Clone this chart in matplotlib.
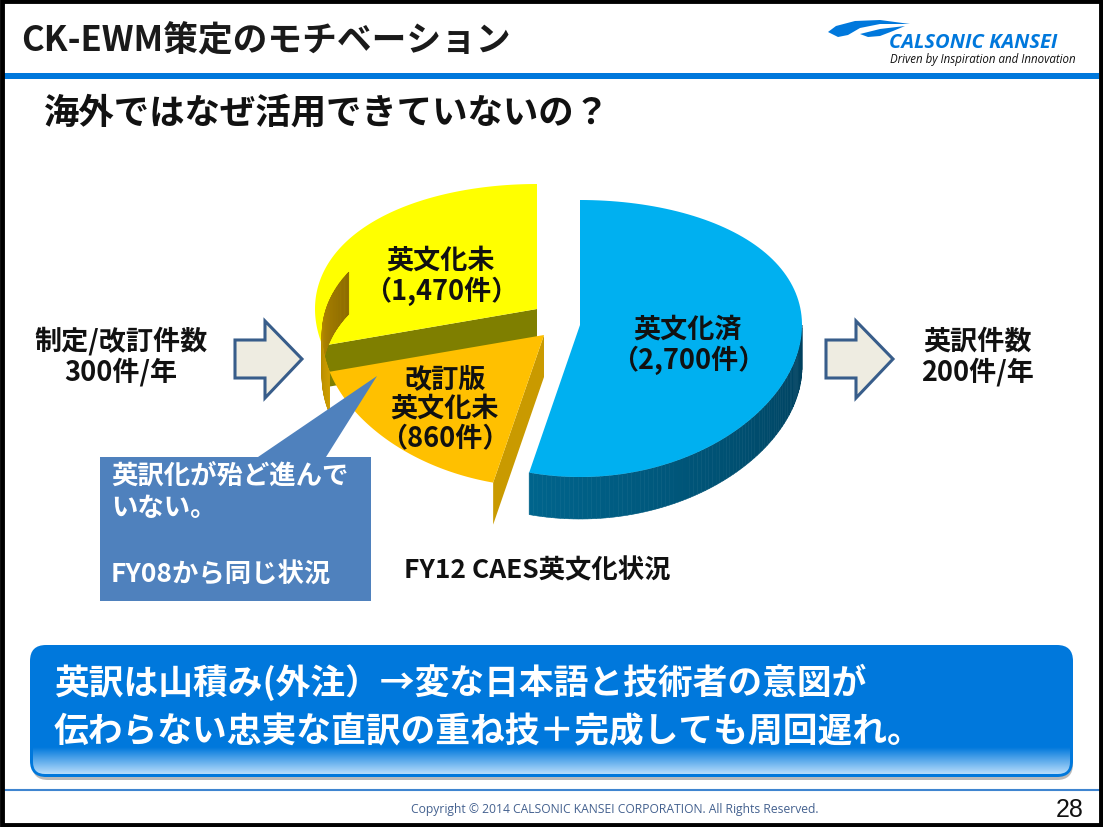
import numpy as np
import matplotlib
matplotlib.use('Agg')
import matplotlib.pyplot as plt
from matplotlib.patches import Polygon, Rectangle, FancyBboxPatch

plt.rcParams['font.family'] = ['Noto Sans CJK JP', 'DejaVu Sans']

# slices, clockwise from 12 o'clock
slice_names = ['英文化済', '英文化未', '改訂版\n英文化未']
slice_counts = [2700, 1470, 860]
slice_labels = ['英文化済\n（2,700件）', '英文化未\n（1,470件）', '改訂版\n英文化未\n（860件）']

title = 'CK-EWM策定のモチベーション'
subtitle = '海外ではなぜ活用できていないの？'
left_label = '制定/改訂件数\n300件/年'
right_label = '英訳件数\n200件/年'
caption = 'FY12 CAES英文化状況'
callout_lines = ['英訳化が殆ど進んで', 'いない。', '', 'FY08から同じ状況']
banner_lines = ['英訳は山積み(外注）→変な日本語と技術者の意図が', '伝わらない忠実な直訳の重ね技＋完成しても周回遅れ。']
copyright_text = 'Copyright © 2014 CALSONIC KANSEI CORPORATION. All Rights Reserved.'
page_no = '28'

BLUE = '#0078DC'
DEPTH = 42


def rim(cx, cy, deg):
    # tilted ellipse, front half a bit longer than the back half
    th = np.radians(deg)
    t = -np.cos(th)
    return cx + 222 * np.sin(th), cy + 138.5 * t + 13.5 * t * t


def arc(cx, cy, a0, a1, n=120):
    return np.column_stack(rim(cx, cy, np.linspace(a0, a1, n)))


def side(ax, cx, cy, a0, a1, c0, c1, z):
    # outer wall of a slice as thin strips, colour running c0 to c1
    a0 = max(a0, 90)
    a1 = min(a1, 270)
    edges = np.linspace(a0, a1, 90)
    c0, c1 = np.array(matplotlib.colors.to_rgb(c0)), np.array(matplotlib.colors.to_rgb(c1))
    for i in range(len(edges) - 1):
        p = arc(cx, cy, edges[i], edges[i + 1], 4)
        q = p[::-1] + [0, DEPTH]
        col = c0 + (c1 - c0) * i / (len(edges) - 2)
        ax.add_patch(Polygon(np.vstack([p, q]), fc=col, ec=col, lw=0.4, zorder=z))


fig = plt.figure(figsize=(11.03, 8.28), dpi=100)
ax = fig.add_axes([0, 0, 1, 1])
ax.set_xlim(0, 1103)
ax.set_ylim(828, 0)
ax.axis('off')

# header
ax.text(21, 41, title, fontsize=25, fontweight='bold', va='center', color='#1a1a1a')
ax.add_patch(Rectangle((4, 74), 1095, 6, fc=BLUE, ec='none'))
ax.text(44, 113, subtitle, fontsize=25.5, fontweight='bold', va='center', color='#111111')

# logo
ax.add_patch(Polygon([(828, 33), (836, 27), (855, 22), (880, 21), (910, 25), (880, 25),
                      (860, 29), (848, 36), (838, 38)], fc=BLUE, ec='none'))
ax.add_patch(Polygon([(860, 35), (880, 30), (905, 27), (893, 32), (880, 37), (868, 38)], fc=BLUE, ec='none'))
ax.text(889, 43, 'CALSONIC KANSEI', fontsize=14.5, style='italic', fontweight='bold', color=BLUE,
        va='center', family='Open Sans')
ax.text(890, 60, 'Driven by Inspiration and Innovation', fontsize=8.3, style='italic', va='center',
        family='Open Sans', color='#111111')

# pie: angles come from the counts
total = sum(slice_counts)
sweep = np.cumsum([0] + slice_counts) / total * 360
blue_c = (580, 326)
yellow_c = (537, 310)
orange_c = (544, 336)

# yellow slice with olive cut wall
a0, a1 = sweep[1], sweep[2]
y_left = np.array(rim(*yellow_c, sweep[2] - (sweep[3] - sweep[2]) * 0 - 0))
y_start = np.array(rim(*yellow_c, a1))
ax.add_patch(Polygon(np.vstack([arc(*yellow_c, sweep[3] - 105, sweep[3]), yellow_c]), fc='#FFFF00', ec='none', zorder=2))
yl = np.array(rim(*yellow_c, sweep[3] - 105))
ax.add_patch(Polygon([yl, yellow_c, (yellow_c[0], yellow_c[1] + DEPTH), yl + [0, DEPTH]], fc='#7F7F00', ec='none', zorder=1))

# orange slice
side(ax, *orange_c, sweep[2], sweep[3] - 105, '#8C6A00', '#CC9C00', 3)
o_end = np.array(rim(*orange_c, sweep[1]))
ax.add_patch(Polygon([orange_c, (orange_c[0], orange_c[1] + DEPTH), o_end + [0, DEPTH], o_end], fc='#C99A00', ec='none', zorder=3))
ax.add_patch(Polygon(np.vstack([arc(*orange_c, sweep[1], sweep[3] - 105), orange_c]), fc='#FFC000', ec='none', zorder=4))

# blue slice
side(ax, *blue_c, sweep[0], sweep[1], '#003F5C', '#00648C', 3)
ax.add_patch(Polygon(np.vstack([arc(*blue_c, sweep[0], sweep[1]), blue_c]), fc='#00B0F0', ec='none', zorder=4))

ax.text(688, 345, slice_labels[0], fontsize=19.5, fontweight='bold', ha='center', va='center', zorder=6, color='#111111', linespacing=1.1)
ax.text(441, 276, slice_labels[1], fontsize=19.5, fontweight='bold', ha='center', va='center', zorder=6, color='#111111', linespacing=1.1)
ax.text(445, 409, slice_labels[2], fontsize=19.5, fontweight='bold', ha='center', va='center', zorder=6, color='#111111', linespacing=1.1)

# side labels and block arrows
ax.text(121, 357, left_label, fontsize=19.5, fontweight='bold', ha='center', va='center', color='#111111', linespacing=1.1)
ax.text(978, 357, right_label, fontsize=19.5, fontweight='bold', ha='center', va='center', color='#111111', linespacing=1.1)
for x0 in [235, 826]:
    ax.add_patch(Polygon([(x0, 341), (x0 + 30, 341), (x0 + 30, 322), (x0 + 67, 360),
                          (x0 + 30, 399), (x0 + 30, 379), (x0, 379)],
                         fc='#EEECE1', ec='#385D8A', lw=2.2, zorder=2))

ax.text(404, 571, caption, fontsize=19, fontweight='bold', va='center', color='#111111')

# callout
ax.add_patch(Polygon([(100, 458), (258, 458), (377, 377), (326, 458), (371, 458), (371, 602), (100, 602)],
                     fc='#4F81BD', ec='none', zorder=7))
for i, line in enumerate(callout_lines):
    ax.text(111, 476 + i * 33, line, fontsize=19, fontweight='bold', color='white', va='center', zorder=8)

# banner with pale strip at the foot
ax.add_patch(FancyBboxPatch((32, 651), 1041, 130, boxstyle='round,pad=0,rounding_size=16', fc='#8a8a8a', ec='none', alpha=0.6, zorder=1))
box = FancyBboxPatch((30, 646), 1043, 132, boxstyle='round,pad=0,rounding_size=16', fc=BLUE, ec='none', zorder=2)
ax.add_patch(box)
grad = np.zeros((64, 1, 3))
c_top, c_bot = np.array(matplotlib.colors.to_rgb(BLUE)), np.array(matplotlib.colors.to_rgb('#B8DDFB'))
for i in range(64):
    grad[i, 0] = c_top + (c_bot - c_top) * i / 63
im = ax.imshow(grad, extent=(33, 1070, 775, 748), aspect='auto', zorder=3)
im.set_clip_path(FancyBboxPatch((33, 700), 1037, 75, boxstyle='round,pad=0,rounding_size=12', transform=ax.transData))
ax.set_xlim(0, 1103)
ax.set_ylim(828, 0)
ax.text(54, 682, banner_lines[0], fontsize=25, fontweight='bold', color='white', va='center', zorder=4)
ax.text(54, 732, banner_lines[1], fontsize=25, fontweight='bold', color='white', va='center', zorder=4)

# footer
ax.plot([4, 1099], [791, 791], color='#3F85D0', lw=1.5)
ax.text(615, 810, copyright_text, fontsize=8.7, color='#44618F', ha='center', va='center', family='Open Sans')
ax.text(1070, 810, page_no, fontsize=18, ha='center', va='center', family='Liberation Sans', color='#111111')

# slide frame
ax.add_patch(Rectangle((2, 2), 1099, 824, fc='none', ec='black', lw=3.5, zorder=10))

fig.savefig('out.png', dpi=100)
